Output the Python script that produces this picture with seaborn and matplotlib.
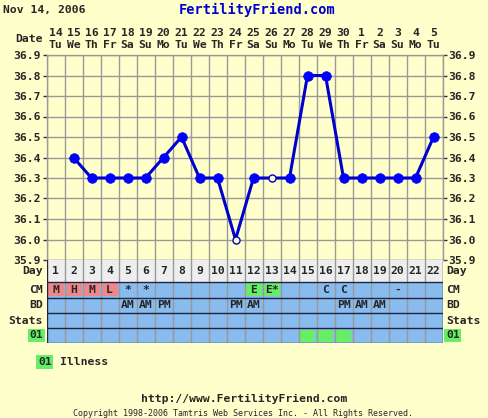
import numpy as np
import pandas as pd
import matplotlib
matplotlib.use("Agg")
import matplotlib.pyplot as plt
import seaborn as sns
from matplotlib.patches import Rectangle

# ---------------- data ----------------
cycle_days = list(range(1, 23))
date_labels = ["14", "15", "16", "17", "18", "19", "20", "21", "22", "23", "24",
               "25", "26", "27", "28", "29", "30", "1", "2", "3", "4", "5"]
weekday_labels = ["Tu", "We", "Th", "Fr", "Sa", "Su", "Mo", "Tu", "We", "Th", "Fr",
                  "Sa", "Su", "Mo", "Tu", "We", "Th", "Fr", "Sa", "Su", "Mo", "Tu"]
temps = [np.nan, 36.4, 36.3, 36.3, 36.3, 36.3, 36.4, 36.5, 36.3, 36.3, 36.0,
         36.3, 36.3, 36.3, 36.8, 36.8, 36.3, 36.3, 36.3, 36.3, 36.3, 36.5]
open_days = [11, 13]
cm_labels = ["M", "H", "M", "L", "*", "*", "", "", "", "", "",
             "E", "E*", "", "", "C", "C", "", "", "-", "", ""]
bd_labels = ["", "", "", "", "AM", "AM", "PM", "", "", "", "PM",
             "AM", "", "", "", "", "PM", "AM", "AM", "", "", ""]
illness_days = [15, 16, 17]
y_ticks = [35.9, 36.0, 36.1, 36.2, 36.3, 36.4, 36.5, 36.6, 36.7, 36.8, 36.9]
row_names = ["Day", "CM", "BD", "Stats", "01"]

# ---------------- styling ----------------
W, H = 488, 418
BG = "#FFFFCC"
GRID = "#999999"
BLUE_ROW = "#88BBEE"
PINK = "#EE8888"
GREEN = "#66EE66"
DAYROW = "#EEEEEE"
FONT = "DejaVu Sans Mono"
FS = 8.2

sns.set_theme(style="white")
plt.rcParams["font.family"] = [FONT]
plt.rcParams["font.weight"] = "bold"

fig = plt.figure(figsize=(W / 100, H / 100), dpi=100, facecolor=BG)


def fx(px):
    return px / W


def fy(py):
    return 1 - py / H


L, R = 46.5, 442.5
TOP, MID, BOT = 55, 260, 343

# ---------------- temperature chart ----------------
ax = fig.add_axes([fx(L), fy(MID), (R - L) / W, (MID - TOP) / H])
ax.set_facecolor(BG)
ax.set_xlim(0.5, 22.5)
ax.set_ylim(35.9, 36.9)
ax.set_xticks(np.arange(0.5, 23, 1))
ax.set_yticks(y_ticks)
ax.grid(True, color=GRID, lw=1)
ax.set_axisbelow(True)
for s in ax.spines.values():
    s.set_color(GRID)
    s.set_linewidth(1)
ax.tick_params(axis="x", bottom=False, labelbottom=False)
ax.tick_params(axis="y", left=True, right=True, labelleft=True, labelright=True,
               length=3, width=1, color="#333333", pad=1, labelsize=FS)
ax.set_yticklabels([f"{v:.1f}" for v in y_ticks], fontweight="bold", family=FONT)

df = pd.DataFrame({"day": cycle_days, "temp": temps})
sns.lineplot(data=df.dropna(), x="day", y="temp", ax=ax, color="#0000CC",
             lw=2.2, estimator=None, sort=False, zorder=3)
filled = df.dropna()
filled = filled[~filled["day"].isin(open_days)]
opened = df[df["day"].isin(open_days)]
sns.scatterplot(data=filled, x="day", y="temp", ax=ax, s=48, color="#0000FF",
                edgecolor="#0000FF", linewidth=0.5, zorder=4)
sns.scatterplot(data=opened, x="day", y="temp", ax=ax, s=26, facecolor=BG,
                edgecolor="#0000CC", linewidth=1.0, zorder=4)
ax.set_xlabel("")
ax.set_ylabel("")

# header dates
for d, dl, wl in zip(cycle_days, date_labels, weekday_labels):
    fig.text(fx(L + (d - 0.5) * 18), fy(33), dl, ha="center", va="center",
             fontsize=FS, fontweight="bold", family=FONT)
    fig.text(fx(L + (d - 0.5) * 18), fy(45), wl, ha="center", va="center",
             fontsize=FS, fontweight="bold", family=FONT)
fig.text(fx(43), fy(39), "Date", ha="right", va="center", fontsize=FS,
         fontweight="bold", family=FONT)

# ---------------- table ----------------
tax = fig.add_axes([fx(L), fy(BOT), (R - L) / W, (BOT - MID) / H])
tax.set_xlim(0.5, 22.5)
tax.set_ylim(BOT, MID)
tax.axis("off")
rows = [(260, 282), (282, 297.5), (297.5, 313), (313, 328), (328, 343)]
tax.add_patch(Rectangle((0.5, rows[0][0]), 22, rows[0][1] - rows[0][0],
                        facecolor=DAYROW, edgecolor="none"))
tax.add_patch(Rectangle((0.5, rows[1][0]), 22, BOT - rows[1][0],
                        facecolor=BLUE_ROW, edgecolor="none"))
for xv in np.arange(1.5, 22.5, 1):
    tax.plot([xv, xv], [MID, BOT], color=GRID, lw=1)
for yv in [282, 297.5, 313, 328, 343]:
    tax.plot([0.5, 22.5], [yv, yv], color="#222244", lw=1)
tax.plot([0.5, 0.5], [MID, BOT], color="#222244", lw=1)
tax.plot([22.5, 22.5], [MID, BOT], color="#222244", lw=1)

for d in cycle_days:
    tax.text(d, 271.5, str(d), ha="center", va="center", fontsize=FS,
             fontweight="bold", family=FONT)
for d, lab in zip(cycle_days, cm_labels):
    if not lab:
        continue
    if lab[0] in "MHL":
        tax.add_patch(Rectangle((d - 0.45, 283.3), 0.9, 12.8, facecolor=PINK,
                                edgecolor="none"))
    elif lab[0] == "E":
        tax.add_patch(Rectangle((d - 0.45, 283.3), 0.9, 12.8, facecolor=GREEN,
                                edgecolor="none"))
    tax.text(d, 290, lab, ha="center", va="center", fontsize=FS,
             fontweight="bold", family=FONT)
for d, lab in zip(cycle_days, bd_labels):
    if lab:
        tax.text(d, 305.5, lab, ha="center", va="center", fontsize=FS,
                 fontweight="bold", family=FONT)
for d in illness_days:
    tax.add_patch(Rectangle((d - 0.4, 329.5), 0.8, 12.5, facecolor=GREEN,
                            edgecolor="none"))

row_centers = [271.5, 290, 305.5, 320.5, 335.5]
for name, yc in zip(row_names, row_centers):
    for side in ("left", "right"):
        if side == "left":
            x, ha = fx(43), "right"
        else:
            x, ha = fx(446), "left"
        bbox = dict(facecolor=GREEN, edgecolor="none", pad=1.2) if name == "01" else None
        fig.text(x, fy(yc), name, ha=ha, va="center", fontsize=FS,
                 fontweight="bold", family=FONT, bbox=bbox)

# ---------------- titles / legend / footer ----------------
fig.text(fx(3), fy(10), "Nov 14, 2006", ha="left", va="center", fontsize=FS,
         fontweight="bold", family=FONT)
fig.text(fx(257), fy(10), "FertilityFriend.com", ha="center", va="center",
         fontsize=9.8, fontweight="bold", family=FONT, color="#0000CC")
fig.text(fx(38), fy(362), "01", ha="left", va="center", fontsize=FS,
         fontweight="bold", family=FONT,
         bbox=dict(facecolor=GREEN, edgecolor="none", pad=1.2))
fig.text(fx(60), fy(362), "Illness", ha="left", va="center", fontsize=FS,
         fontweight="bold", family=FONT)
fig.text(fx(244), fy(399), "http://www.FertilityFriend.com", ha="center",
         va="center", fontsize=FS, fontweight="bold", family=FONT)
fig.text(fx(243), fy(413), "Copyright 1998-2006 Tamtris Web Services Inc. - All Rights Reserved.",
         ha="center", va="center", fontsize=6.0, fontweight="normal", family=FONT)

fig.savefig("out.png", dpi=100, facecolor=BG)
